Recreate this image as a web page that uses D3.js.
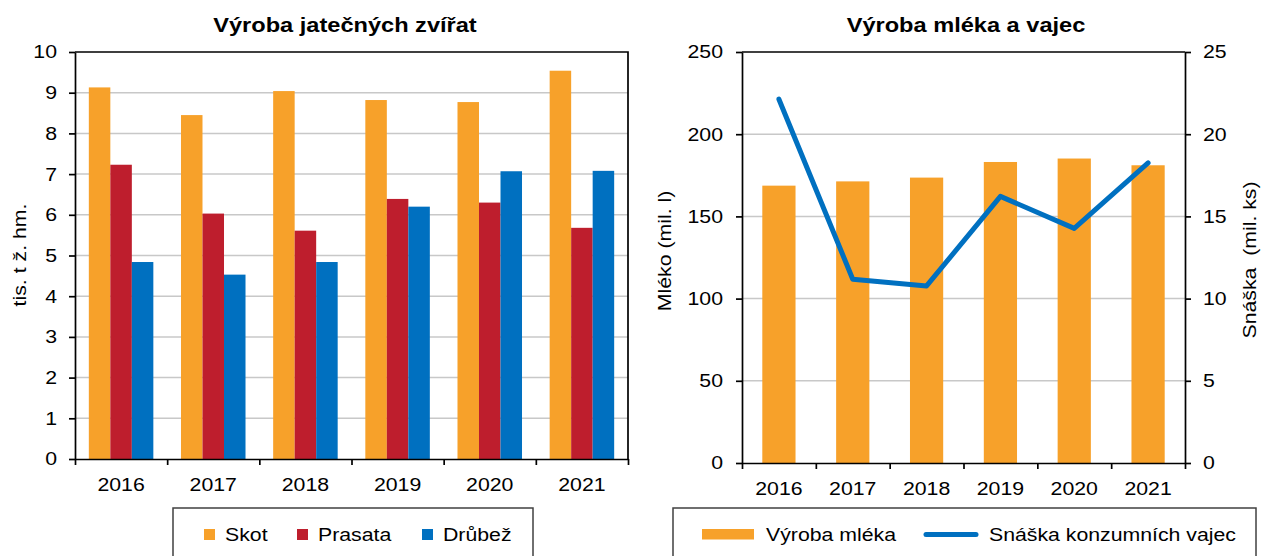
<!DOCTYPE html>
<html>
<head>
<meta charset="utf-8">
<script src="https://cdn.jsdelivr.net/npm/d3@7"></script>
<style>
  body { margin: 0; background: #fff; }
  svg { display: block; font-family: Arial, "Liberation Sans", sans-serif; }
</style>
</head>
<body>
<div class="chart-wrapper"></div>
<script>
// data
const years = ["2016", "2017", "2018", "2019", "2020", "2021"];
const meatSeries = ["Skot", "Prasata", "Drůbež"];
const skot = [9.13, 8.45, 9.04, 8.82, 8.77, 9.54];
const prasata = [7.23, 6.03, 5.61, 6.39, 6.30, 5.68];
const drubez = [4.84, 4.53, 4.84, 6.20, 7.07, 7.08];
const meatTicks = [0, 1, 2, 3, 4, 5, 6, 7, 8, 9, 10];

const mleko = [168.7, 171.3, 173.6, 183.1, 185.2, 181.1];
const vejce = [22.13, 11.18, 10.77, 16.22, 14.27, 18.25];
const milkTicks = [0, 50, 100, 150, 200, 250];
const eggTicks = [0, 5, 10, 15, 20, 25];

const orange = "#F7A12A", red = "#BE1E2D", blue = "#0070C0";
const meatColor = d3.scaleOrdinal().domain(meatSeries).range([orange, red, blue]);

const width = 1261, height = 556;
const K = 1.15; // text in the source is drawn a bit wider than plain Arial
const grid = "#C8C8C8";

const svg = d3.select(".chart-wrapper").append("svg")
    .attr("width", width)
    .attr("height", height)
    .style("font-size", "18.5px")
    .style("fill", "#000")

function widen(sel, k = K) {
    sel.each(function() {
        const t = d3.select(this);
        const x = +t.attr("x") || 0;
        t.attr("transform", `translate(${x},0) scale(${k},1) translate(${-x},0)`);
    });
}

function styleAxis(g) {
    g.selectAll("path, line").attr("stroke", "#000").attr("stroke-width", 1.7);
    g.selectAll("text").style("font-size", "18.5px").attr("fill", "#000").call(widen);
    g.attr("font-family", null).attr("font-size", null);
}

function title(txt, cx) {
    svg.append("text")
        .attr("x", cx).attr("y", 32)
        .attr("text-anchor", "middle")
        .style("font-weight", "bold")
        .style("font-size", "20px")
        .text(txt)
        .call(widen, 1.18);
}

function axisTitle(txt, bx, cy) {
    svg.append("g")
        .attr("transform", `translate(${bx},${cy}) rotate(-90)`)
        .append("text")
        .attr("text-anchor", "middle")
        .style("white-space", "pre")
        .text(txt)
        .call(widen);
}

// ---------- left chart: Výroba jatečných zvířat ----------
const L = { x0: 75, x1: 628, y0: 52, y1: 459 };

const xL = d3.scaleBand().domain(years).range([L.x0, L.x1]).paddingInner(0.3).paddingOuter(0.15);
const xSub = d3.scaleBand().domain(meatSeries).range([0, xL.bandwidth()]);
const slotL = d3.scaleLinear().domain([0, years.length]).range([L.x0, L.x1]);
const yL = d3.scaleLinear().domain([0, 10]).range([L.y1, L.y0]);

svg.append("g")
    .selectAll("line")
    .data(meatTicks.slice(1, -1))
    .join("line")
    .attr("x1", L.x0).attr("x2", L.x1)
    .attr("y1", d => yL(d)).attr("y2", d => yL(d))
    .attr("stroke", grid)
    .attr("stroke-width", 1.5);

const meatRows = years.map((y, i) => ({ year: y, values: [skot[i], prasata[i], drubez[i]] }));

svg.append("g")
    .selectAll("g")
    .data(meatRows)
    .join("g")
    .attr("transform", d => `translate(${xL(d.year)},0)`)
    .selectAll("rect")
    .data(d => d.values.map((v, j) => ({ key: meatSeries[j], value: v })))
    .join("rect")
    .attr("x", d => xSub(d.key))
    .attr("width", xSub.bandwidth())
    .attr("y", d => yL(d.value))
    .attr("height", d => yL(0) - yL(d.value))
    .attr("fill", d => meatColor(d.key));

// frame top + right
svg.append("path")
    .attr("d", `M${L.x0},${L.y0}H${L.x1}V${L.y1}`)
    .attr("fill", "none")
    .attr("stroke", "#000")
    .attr("stroke-width", 1.7);

svg.append("g")
    .attr("transform", `translate(${L.x0},0)`)
    .call(d3.axisLeft(yL).tickValues(meatTicks).tickFormat(d3.format("d")).tickSize(6).tickPadding(12).tickSizeOuter(0))
    .call(styleAxis);

svg.append("g")
    .attr("transform", `translate(0,${L.y1})`)
    .call(d3.axisBottom(slotL).tickValues(d3.range(years.length + 1)).tickFormat("").tickSize(6).tickSizeOuter(0))
    .call(styleAxis);

svg.append("g")
    .attr("transform", `translate(0,${L.y1})`)
    .call(d3.axisBottom(xL).tickSize(0).tickPadding(19))
    .call(g => g.select(".domain").remove())
    .call(styleAxis);

title("Výroba jatečných zvířat", 345);
axisTitle("tis. t ž. hm.", 26, 255);

// legend left
const legL = svg.append("g");
legL.append("rect")
    .attr("x", 173).attr("y", 508)
    .attr("width", 533 - 173).attr("height", 80)
    .attr("fill", "#fff")
    .attr("stroke", "#404040")
    .attr("stroke-width", 1.5);
const legLpos = [204, 297, 422];
const legLitem = legL.selectAll("g.item")
    .data(meatSeries)
    .join("g")
    .attr("class", "item")
    .attr("transform", (d, i) => `translate(${legLpos[i]},0)`);
legLitem.append("rect")
    .attr("x", 0).attr("y", 529)
    .attr("width", 11).attr("height", 11)
    .attr("fill", d => meatColor(d));
legLitem.append("text")
    .attr("x", 21).attr("y", 541.5)
    .text(d => d)
    .call(widen);

// ---------- right chart: Výroba mléka a vajec ----------
const R = { x0: 742, x1: 1185, y0: 52, y1: 463 };

const xR = d3.scaleBand().domain(years).range([R.x0, R.x1]).paddingInner(0.55).paddingOuter(0.275);
const slotR = d3.scaleLinear().domain([0, years.length]).range([R.x0, R.x1]);
const yMilk = d3.scaleLinear().domain([0, 250]).range([R.y1, R.y0]);
const yEgg = d3.scaleLinear().domain([0, 25]).range([R.y1, R.y0]);

svg.append("g")
    .selectAll("line")
    .data(milkTicks.slice(1, -1))
    .join("line")
    .attr("x1", R.x0).attr("x2", R.x1)
    .attr("y1", d => yMilk(d)).attr("y2", d => yMilk(d))
    .attr("stroke", grid)
    .attr("stroke-width", 1.5);

svg.append("g")
    .selectAll("rect")
    .data(years)
    .join("rect")
    .attr("x", d => xR(d))
    .attr("width", xR.bandwidth())
    .attr("y", (d, i) => yMilk(mleko[i]))
    .attr("height", (d, i) => yMilk(0) - yMilk(mleko[i]))
    .attr("fill", orange);

svg.append("line")
    .attr("x1", R.x0).attr("x2", R.x1)
    .attr("y1", R.y0).attr("y2", R.y0)
    .attr("stroke", "#000")
    .attr("stroke-width", 1.7);

const eggLine = d3.line()
    .x((d, i) => xR(years[i]) + xR.bandwidth() / 2)
    .y(d => yEgg(d));

svg.append("path")
    .datum(vejce)
    .attr("d", eggLine)
    .attr("fill", "none")
    .attr("stroke", blue)
    .attr("stroke-width", 5)
    .attr("stroke-linejoin", "round")
    .attr("stroke-linecap", "round");

svg.append("g")
    .attr("transform", `translate(${R.x0},0)`)
    .call(d3.axisLeft(yMilk).tickValues(milkTicks).tickSize(6).tickPadding(13).tickSizeOuter(0))
    .call(styleAxis);

svg.append("g")
    .attr("transform", `translate(${R.x1},0)`)
    .call(d3.axisRight(yEgg).tickValues(eggTicks).tickSize(6).tickPadding(12).tickSizeOuter(0))
    .call(styleAxis);

svg.append("g")
    .attr("transform", `translate(0,${R.y1})`)
    .call(d3.axisBottom(slotR).tickValues(d3.range(years.length + 1)).tickFormat("").tickSize(6).tickSizeOuter(0))
    .call(styleAxis);

svg.append("g")
    .attr("transform", `translate(0,${R.y1})`)
    .call(d3.axisBottom(xR).tickSize(0).tickPadding(18.5))
    .call(g => g.select(".domain").remove())
    .call(styleAxis);

title("Výroba mléka a vajec", 966);
axisTitle("Mléko (mil. l)", 671, 251);
axisTitle("Snáška  (mil. ks)", 1256, 260);

// legend right
const legR = svg.append("g");
legR.append("rect")
    .attr("x", 673).attr("y", 508)
    .attr("width", 1256 - 673).attr("height", 80)
    .attr("fill", "#fff")
    .attr("stroke", "#404040")
    .attr("stroke-width", 1.5);
legR.append("rect")
    .attr("x", 702).attr("y", 529)
    .attr("width", 52).attr("height", 10.5)
    .attr("fill", orange);
legR.append("text")
    .attr("x", 766).attr("y", 541.5)
    .text("Výroba mléka")
    .call(widen);
legR.append("line")
    .attr("x1", 926).attr("x2", 976)
    .attr("y1", 534.5).attr("y2", 534.5)
    .attr("stroke", blue)
    .attr("stroke-width", 5)
    .attr("stroke-linecap", "round");
legR.append("text")
    .attr("x", 989).attr("y", 541.5)
    .text("Snáška konzumních vajec")
    .call(widen);
</script>
</body>
</html>
